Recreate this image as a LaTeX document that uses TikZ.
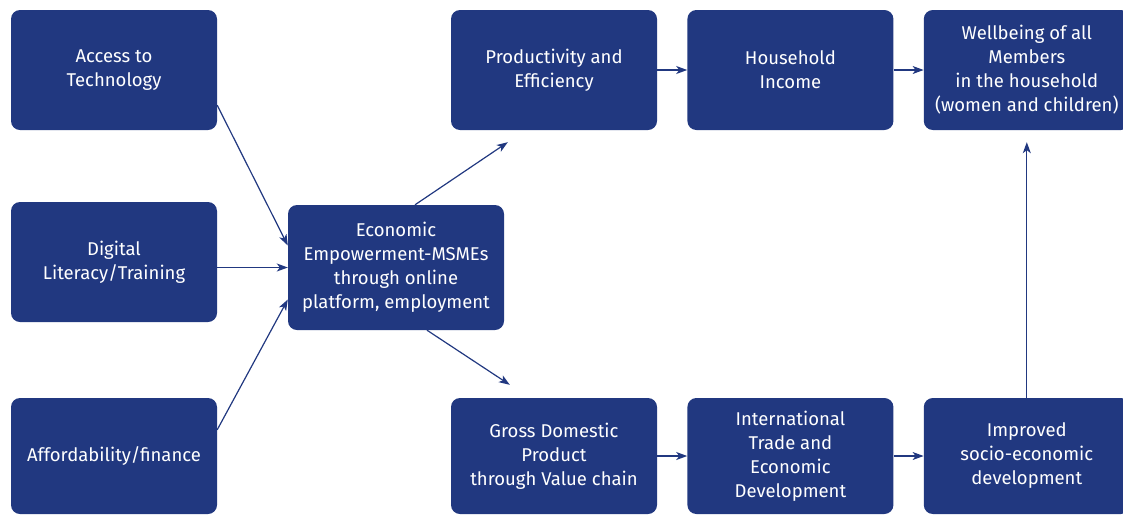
\documentclass[tikz,border=0pt]{standalone}
\usepackage{fontspec}
\setmainfont{Fira Sans}
\usetikzlibrary{calc,arrows.meta,positioning}

\definecolor{navy}{RGB}{33,56,128}

\begin{document}
\begin{tikzpicture}[x=1pt,y=-1pt,node distance=30pt,
    box/.style={
    % The shape:
    rectangle,minimum width=206pt,minimum height=120pt,rounded corners=9pt,
    % The rest
    fill=navy,text=white,align=center,inner sep=2pt,
    font=\fontsize{18.5}{24}\selectfont},
    link/.style={draw=navy,line width=1.2pt,
    -{Stealth[length=11pt,width=8pt,inset=3pt]}}]
    \useasboundingbox (0,0) rectangle (1123,515);
    \clip (0,0) rectangle (1123,515);
    % left column: the three inputs
    \node (access) [box] at (114,70) {Access to\\Technology};
    \node (digital) [box] at (114,262) {Digital\\Literacy/Training};
    \node (afford) [box,minimum height=116pt] at (114,456) {Affordability/finance};
    % centre
    \node (econ) [box,minimum width=216pt,minimum height=125pt] at (396,267.5)
        {Economic\\Empowerment-MSMEs\\through online\\platform, employment};
    % top row
    \node (prod) [box] at (554,70) {Productivity and\\Efficiency};
    \node (house) [box,right=of prod] {Household\\Income};
    \node (well) [box,right=of house] {Wellbeing of all\\Members\\in the household\\(women and children)};
    % bottom row
    \node (gdp) [box,minimum height=116pt] at (554,456) {Gross Domestic\\Product\\through Value chain};
    \node (trade) [box,minimum height=116pt,right=of gdp] {International\\Trade and\\Economic\\Development};
    \node (improved) [box,minimum height=116pt,right=of trade] {Improved\\socio-economic\\development};
    % free ends of the two branches
    \coordinate (up) at ($(prod.south west)+(57,12)$);
    \coordinate (down) at ($(gdp.north west)+(59,-13)$);
    % connectors
    \draw[link] ($(access.south east)+(0,-25)$) -- ($(econ.west)+(0,-22)$);
    \draw[link] (digital.east |- econ.west) -- (econ.west);
    \draw[link] ($(afford.north east)+(0,32)$) -- ($(econ.west)+(0,32)$);
    \draw[link] ($(econ.north)+(19,0)$) -- (up);
    \draw[link] ($(econ.south)+(31,0)$) -- (down);
    \draw[link] (prod) -- (house);
    \draw[link] (house) -- (well);
    \draw[link] (gdp) -- (trade);
    \draw[link] (trade) -- (improved);
    \draw[link,shorten >=12pt] (improved) -- (well);
\end{tikzpicture}
\end{document}
